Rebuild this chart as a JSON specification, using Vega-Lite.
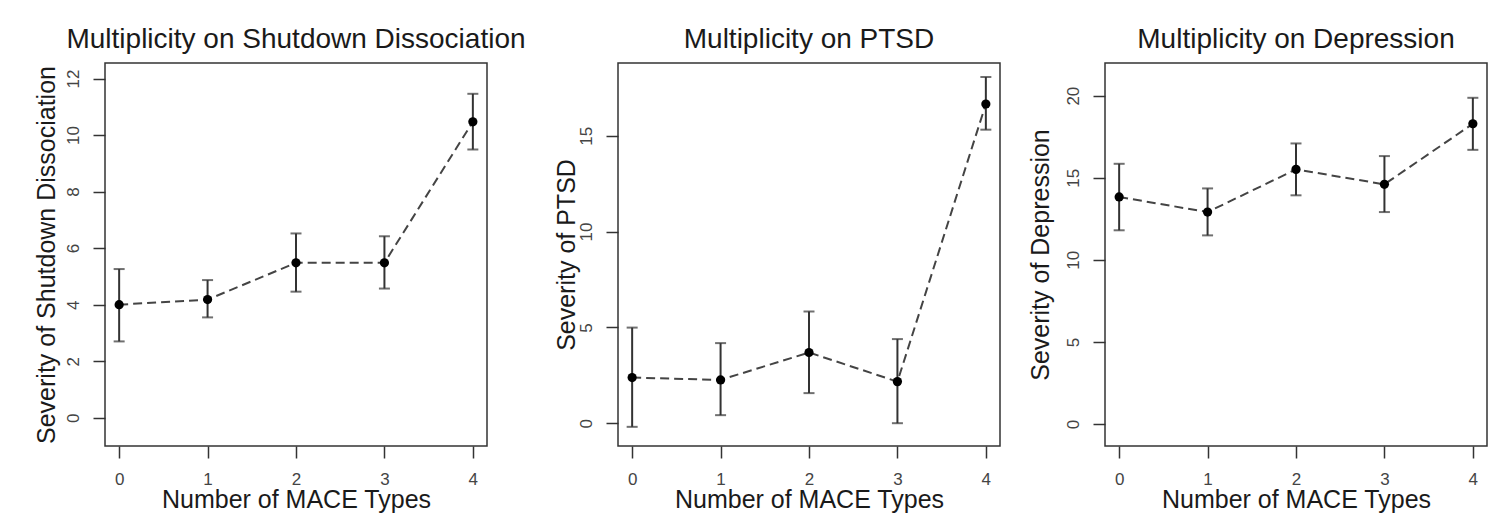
{
  "$schema": "https://vega.github.io/schema/vega-lite/v6.json",
  "padding": {"left": 33, "top": 25, "right": 5, "bottom": 0},
  "spacing": 26,
  "datasets": {
    "pts": [
      {"panel": "sd", "mace": 0, "mean": 4.0, "lo": 2.7, "hi": 5.26},
      {"panel": "sd", "mace": 1, "mean": 4.18, "lo": 3.55, "hi": 4.87},
      {"panel": "sd", "mace": 2, "mean": 5.48, "lo": 4.46, "hi": 6.52},
      {"panel": "sd", "mace": 3, "mean": 5.48, "lo": 4.57, "hi": 6.42},
      {"panel": "sd", "mace": 4, "mean": 10.47, "lo": 9.49, "hi": 11.46},
      {"panel": "ptsd", "mace": 0, "mean": 2.38, "lo": -0.19, "hi": 4.99},
      {"panel": "ptsd", "mace": 1, "mean": 2.26, "lo": 0.42, "hi": 4.18},
      {"panel": "ptsd", "mace": 2, "mean": 3.69, "lo": 1.57, "hi": 5.83},
      {"panel": "ptsd", "mace": 3, "mean": 2.17, "lo": 0.0, "hi": 4.39},
      {"panel": "ptsd", "mace": 4, "mean": 16.66, "lo": 15.32, "hi": 18.07},
      {"panel": "dep", "mace": 0, "mean": 13.83, "lo": 11.8, "hi": 15.85},
      {"panel": "dep", "mace": 1, "mean": 12.91, "lo": 11.49, "hi": 14.35},
      {"panel": "dep", "mace": 2, "mean": 15.51, "lo": 13.93, "hi": 17.09},
      {"panel": "dep", "mace": 3, "mean": 14.6, "lo": 12.91, "hi": 16.32},
      {"panel": "dep", "mace": 4, "mean": 18.29, "lo": 16.7, "hi": 19.87}
    ]
  },
  "hconcat": [
    {
      "width": 382, "height": 383,
      "data": {"name": "pts"},
      "title": "Multiplicity on Shutdown Dissociation",
      "transform": [{"filter": "datum.panel === 'sd'"}],
      "encoding": {
        "x": {"field": "mace", "type": "quantitative", "title": "Number of MACE Types",
              "scale": {"domain": [-0.16, 4.16], "nice": false, "zero": false},
              "axis": {"values": [0, 1, 2, 3, 4], "tickSize": 12, "labelPadding": 13, "titlePadding": 0, "labelAngle": 0, "labelBaseline": "top"}}
      },
      "layer": [
        {"mark": {"type": "line", "strokeDash": [9, 5], "color": "#444", "strokeWidth": 2},
         "encoding": {"y": {"field": "mean", "type": "quantitative", "title": "Severity of Shutdown Dissociation",
                            "scale": {"domain": [-1, 12.55], "nice": false, "zero": false},
                            "axis": {"values": [0, 2, 4, 6, 8, 10, 12], "tickSize": 12, "labelAngle": -90, "labelAlign": "center", "labelBaseline": "middle", "labelPadding": 20, "titlePadding": 5}}}},
        {"mark": {"type": "rule", "color": "#333", "strokeWidth": 2},
         "encoding": {"y": {"field": "lo", "type": "quantitative", "title": "Severity of Shutdown Dissociation",
                            "scale": {"domain": [-1, 12.55], "nice": false, "zero": false}},
                      "y2": {"field": "hi"}}},
        {"mark": {"type": "tick", "orient": "horizontal", "size": 11, "thickness": 2, "color": "#333"},
         "encoding": {"y": {"field": "lo", "type": "quantitative", "title": "Severity of Shutdown Dissociation",
                            "scale": {"domain": [-1, 12.55], "nice": false, "zero": false}}}},
        {"mark": {"type": "tick", "orient": "horizontal", "size": 11, "thickness": 2, "color": "#333"},
         "encoding": {"y": {"field": "hi", "type": "quantitative", "title": "Severity of Shutdown Dissociation",
                            "scale": {"domain": [-1, 12.55], "nice": false, "zero": false}}}},
        {"mark": {"type": "point", "filled": true, "color": "#000", "size": 85, "opacity": 1},
         "encoding": {"y": {"field": "mean", "type": "quantitative", "title": "Severity of Shutdown Dissociation",
                            "scale": {"domain": [-1, 12.55], "nice": false, "zero": false}}}}
      ]
    },
    {
      "width": 382, "height": 383,
      "data": {"name": "pts"},
      "title": "Multiplicity on PTSD",
      "transform": [{"filter": "datum.panel === 'ptsd'"}],
      "encoding": {
        "x": {"field": "mace", "type": "quantitative", "title": "Number of MACE Types",
              "scale": {"domain": [-0.16, 4.16], "nice": false, "zero": false},
              "axis": {"values": [0, 1, 2, 3, 4], "tickSize": 12, "labelPadding": 13, "titlePadding": 0, "labelAngle": 0, "labelBaseline": "top"}}
      },
      "layer": [
        {"mark": {"type": "line", "strokeDash": [9, 5], "color": "#444", "strokeWidth": 2},
         "encoding": {"y": {"field": "mean", "type": "quantitative", "title": "Severity of PTSD",
                            "scale": {"domain": [-1.19, 18.8], "nice": false, "zero": false},
                            "axis": {"values": [0, 5, 10, 15], "tickSize": 12, "labelAngle": -90, "labelAlign": "center", "labelBaseline": "middle", "labelPadding": 20, "titlePadding": -2}}}},
        {"mark": {"type": "rule", "color": "#333", "strokeWidth": 2},
         "encoding": {"y": {"field": "lo", "type": "quantitative", "title": "Severity of PTSD",
                            "scale": {"domain": [-1.19, 18.8], "nice": false, "zero": false}},
                      "y2": {"field": "hi"}}},
        {"mark": {"type": "tick", "orient": "horizontal", "size": 11, "thickness": 2, "color": "#333"},
         "encoding": {"y": {"field": "lo", "type": "quantitative", "title": "Severity of PTSD",
                            "scale": {"domain": [-1.19, 18.8], "nice": false, "zero": false}}}},
        {"mark": {"type": "tick", "orient": "horizontal", "size": 11, "thickness": 2, "color": "#333"},
         "encoding": {"y": {"field": "hi", "type": "quantitative", "title": "Severity of PTSD",
                            "scale": {"domain": [-1.19, 18.8], "nice": false, "zero": false}}}},
        {"mark": {"type": "point", "filled": true, "color": "#000", "size": 85, "opacity": 1},
         "encoding": {"y": {"field": "mean", "type": "quantitative", "title": "Severity of PTSD",
                            "scale": {"domain": [-1.19, 18.8], "nice": false, "zero": false}}}}
      ]
    },
    {
      "width": 382, "height": 383,
      "data": {"name": "pts"},
      "title": "Multiplicity on Depression",
      "transform": [{"filter": "datum.panel === 'dep'"}],
      "encoding": {
        "x": {"field": "mace", "type": "quantitative", "title": "Number of MACE Types",
              "scale": {"domain": [-0.16, 4.16], "nice": false, "zero": false},
              "axis": {"values": [0, 1, 2, 3, 4], "tickSize": 12, "labelPadding": 13, "titlePadding": 0, "labelAngle": 0, "labelBaseline": "top"}}
      },
      "layer": [
        {"mark": {"type": "line", "strokeDash": [9, 5], "color": "#444", "strokeWidth": 2},
         "encoding": {"y": {"field": "mean", "type": "quantitative", "title": "Severity of Depression",
                            "scale": {"domain": [-1.34, 21.99], "nice": false, "zero": false},
                            "axis": {"values": [0, 5, 10, 15, 20], "tickSize": 12, "labelAngle": -90, "labelAlign": "center", "labelBaseline": "middle", "labelPadding": 20, "titlePadding": 11}}}},
        {"mark": {"type": "rule", "color": "#333", "strokeWidth": 2},
         "encoding": {"y": {"field": "lo", "type": "quantitative", "title": "Severity of Depression",
                            "scale": {"domain": [-1.34, 21.99], "nice": false, "zero": false}},
                      "y2": {"field": "hi"}}},
        {"mark": {"type": "tick", "orient": "horizontal", "size": 11, "thickness": 2, "color": "#333"},
         "encoding": {"y": {"field": "lo", "type": "quantitative", "title": "Severity of Depression",
                            "scale": {"domain": [-1.34, 21.99], "nice": false, "zero": false}}}},
        {"mark": {"type": "tick", "orient": "horizontal", "size": 11, "thickness": 2, "color": "#333"},
         "encoding": {"y": {"field": "hi", "type": "quantitative", "title": "Severity of Depression",
                            "scale": {"domain": [-1.34, 21.99], "nice": false, "zero": false}}}},
        {"mark": {"type": "point", "filled": true, "color": "#000", "size": 85, "opacity": 1},
         "encoding": {"y": {"field": "mean", "type": "quantitative", "title": "Severity of Depression",
                            "scale": {"domain": [-1.34, 21.99], "nice": false, "zero": false}}}}
      ]
    }
  ],
  "config": {
    "font": "Liberation Sans",
    "view": {"stroke": "#333", "strokeWidth": 1.5},
    "axis": {
      "grid": false, "domain": false,
      "tickColor": "#333", "tickWidth": 1.5,
      "labelFont": "Liberation Sans", "labelFontSize": 17, "labelColor": "#444",
      "titleFont": "Liberation Sans", "titleFontSize": 25, "titleFontWeight": "normal", "titleColor": "#1a1a1a"
    },
    "title": {"font": "Liberation Sans", "fontSize": 28, "fontWeight": "normal", "color": "#1a1a1a", "offset": 9, "anchor": "middle", "baseline": "alphabetic"}
  }
}
